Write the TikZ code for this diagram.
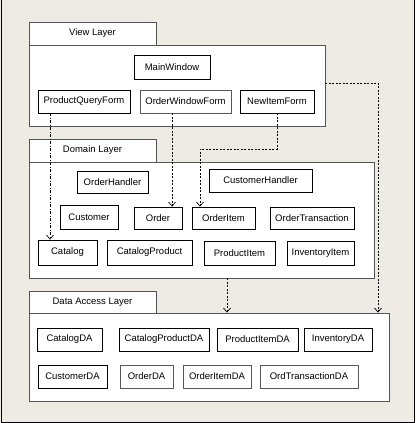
\documentclass[tikz,border=0pt]{standalone}
\usepackage{fontspec}
\setmainfont{Liberation Sans}
\usetikzlibrary{arrows.meta}
\definecolor{paper}{HTML}{EEEAE4}
\definecolor{edge}{HTML}{555555}

\begin{document}
\begin{tikzpicture}[x=1pt, y=-1pt,
    cls/.style={rectangle, draw, fill=white, line width=0.8pt, inner sep=0pt, minimum height=23pt,
        font=\fontsize{9.5}{11}\selectfont},
    tab/.style={rectangle, draw=edge, fill=white, line width=0.9pt, inner sep=0pt, minimum width=127pt,
        minimum height=23pt, font=\fontsize{9.5}{11}\selectfont},
    layer/.style={rectangle, draw=edge, fill=white, line width=0.9pt, inner sep=0pt},
    dep/.style={line width=0.7pt, dash pattern=on 2pt off 1.5pt, -{Straight Barb[length=4pt, width=7pt]}}]
    \fill[paper] (0,0) rectangle (415,423);
    \useasboundingbox (0,0) rectangle (415,423);
    \draw[line width=1pt] (1,0) -- (1,422) -- (414,422) -- (414,0);
    % view layer
    \node[tab] (viewtab) at (92.5, 33.5) {View Layer};
    \node[layer, minimum width=296pt, minimum height=81pt] (viewbody) at (177, 85.5) {};
    \node[cls, minimum width=76pt, minimum height=24pt] (mainwin) at (172, 67) {MainWindow};
    \node[cls, minimum width=92pt] (pqf) at (84, 101.5) {ProductQueryForm};
    \node[cls, draw=black!65, minimum width=91pt] (owf) at (185.5, 101.5) {OrderWindowForm};
    \node[cls, minimum width=74pt] (nif) at (277, 101.5) {NewItemForm};
    % domain layer
    \node[tab] (domtab) at (92.5, 150.5) {Domain Layer};
    \node[layer, minimum width=345pt, minimum height=116pt] (dombody) at (201.5, 220) {};
    \node[cls, minimum width=71pt, minimum height=22pt] (ohandler) at (112.5, 182) {OrderHandler};
    \node[cls, minimum width=103pt] (chandler) at (260.5, 180.5) {CustomerHandler};
    \node[cls, minimum width=58pt, minimum height=24pt] (cust) at (89, 217) {Customer};
    \node[cls, minimum width=48pt, minimum height=22pt] (order) at (158, 218) {Order};
    \node[cls, minimum width=63pt, minimum height=22pt] (oitem) at (223.5, 218) {OrderItem};
    \node[cls, minimum width=84pt, minimum height=22pt] (otrans) at (312, 218) {OrderTransaction};
    \node[cls, minimum width=59pt, minimum height=25pt] (cat) at (67.5, 252.5) {Catalog};
    \node[cls, minimum width=85pt, minimum height=25pt] (catprod) at (149.5, 252.5) {CatalogProduct};
    \node[cls, minimum width=71pt, minimum height=24pt] (pitem) at (239.5, 253) {ProductItem};
    \node[cls, minimum width=67pt, minimum height=24pt] (invitem) at (320.5, 253) {InventoryItem};
    % data access layer
    \node[tab, minimum height=22pt] (datab) at (92.5, 302) {Data Access Layer};
    \node[layer, minimum width=360pt, minimum height=88pt] (dabody) at (209, 357) {};
    \node[cls, minimum width=65pt] (catda) at (69.5, 339.5) {CatalogDA};
    \node[cls, minimum width=90pt] (catprodda) at (164, 339.5) {CatalogProductDA};
    \node[cls, minimum width=81pt] (pitemda) at (257.5, 339.5) {ProductItemDA};
    \node[cls, minimum width=68pt] (invda) at (338, 339.5) {InventoryDA};
    \node[cls, minimum width=69pt] (custda) at (72.5, 376.5) {CustomerDA};
    \node[cls, draw=black!65, minimum width=53pt] (orderda) at (146.5, 376.5) {OrderDA};
    \node[cls, draw=black!65, minimum width=68pt] (oitemda) at (217, 376.5) {OrderItemDA};
    \node[cls, draw=black!65, minimum width=98pt] (otransda) at (309, 376.5) {OrdTransactionDA};
    % dependencies
    \coordinate (nifbend) at (277, 149);
    \coordinate (oitembend) at (200, 149);
    \coordinate (viewbend) at (378, 83);
    \draw[dep, dash pattern=on 3pt off 1.5pt on 1pt off 1.5pt] (pqf.south -| 50,0) -- (cat.north -| 50,0);
    \draw[dep] (owf.south -| 172,0) -- (order.north -| 172,0);
    \draw[dep] (nif.south -| nifbend) -- (nifbend) -- (oitembend) -- (oitem.north -| oitembend);
    \draw[dep] (viewbody.east |- viewbend) -- (viewbend) -- (dabody.north -| viewbend);
    \draw[dep] (dombody.south -| 227,0) -- (dabody.north -| 227,0);
\end{tikzpicture}
\end{document}
